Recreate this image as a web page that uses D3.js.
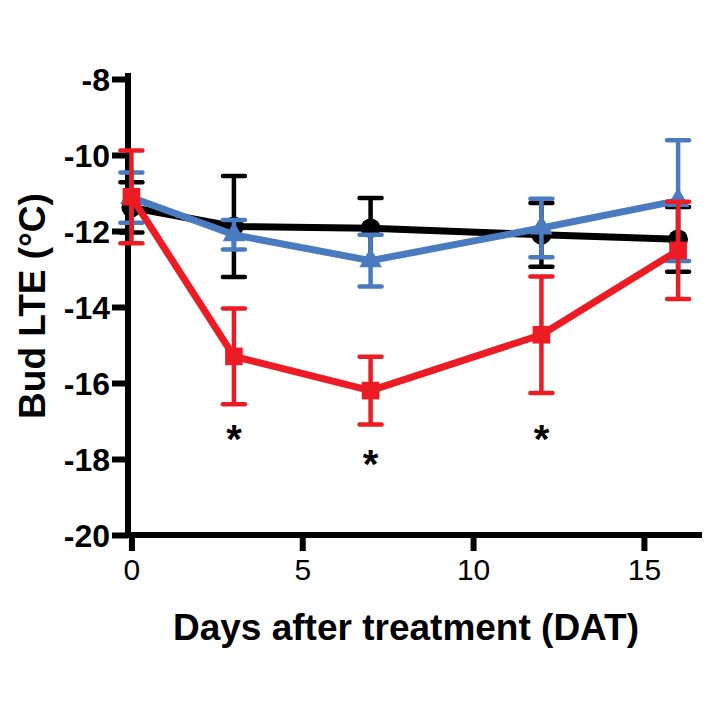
<!DOCTYPE html>
<html>
<head>
<meta charset="utf-8">
<script src="https://cdn.jsdelivr.net/npm/d3@7"></script>
<style>
  body { margin: 0; background: #fff; }
  text { font-family: "Liberation Sans", Arial, sans-serif; }
</style>
</head>
<body>
<div class="chart"></div>
<script>
const days = [0, 3, 7, 12, 16]

const blackMean = [-11.38, -11.88, -11.93, -12.10, -12.22]
const blackErr  = [0.66, 1.33, 0.80, 0.84, 0.85]

const blueMean = [-11.12, -12.10, -12.78, -11.92, -11.20]
const blueErr  = [0.66, 0.39, 0.68, 0.77, 1.59]

const redMean = [-11.10, -15.30, -16.20, -14.73, -12.51]
const redErr  = [1.22, 1.26, 0.89, 1.53, 1.28]

const starDays = [3, 7, 12]
const starValues = [-17.84, -18.5, -17.84]

const yTicks = [-8, -10, -12, -14, -16, -18, -20]
const xTicks = [0, 5, 10, 15]

const width = 709, height = 709

const xScale = d3.scaleLinear().domain([-0.1, 16.7]).range([128, 702])
const yScale = d3.scaleLinear().domain([-20, -8]).range([535, 79])

const svg = d3.select('.chart')
  .append('svg')
  .attr('width', width)
  .attr('height', height)

// axes
const yAxis = svg.append('g')
  .attr('transform', 'translate(128,0)')
  .call(d3.axisLeft(yScale).tickValues(yTicks).tickSize(16).tickPadding(2).tickSizeOuter(0))
yAxis.select('.domain').remove()
yAxis.append('line')
  .attr('x1', 0).attr('x2', 0)
  .attr('y1', 73).attr('y2', 538)
  .attr('stroke', '#000').attr('stroke-width', 6)
yAxis.selectAll('.tick line').attr('stroke', '#000').attr('stroke-width', 6)
yAxis.selectAll('.tick text')
  .attr('fill', '#000')
  .style('font-size', '32px')
  .style('font-weight', 'bold')
  .attr('dy', '0.36em')
  .text(d => d)

const xAxis = svg.append('g')
  .attr('transform', 'translate(0,535)')
  .call(d3.axisBottom(xScale).tickValues(xTicks).tickSize(16).tickPadding(8).tickSizeOuter(0))
xAxis.select('.domain').remove()
xAxis.append('line')
  .attr('x1', 125).attr('x2', 702)
  .attr('y1', 0).attr('y2', 0)
  .attr('stroke', '#000').attr('stroke-width', 6)
xAxis.selectAll('.tick line').attr('stroke', '#000').attr('stroke-width', 6)
xAxis.selectAll('.tick text')
  .attr('fill', '#000')
  .style('font-size', '30px')

// axis titles
svg.append('text')
  .attr('x', 406).attr('y', 640)
  .attr('text-anchor', 'middle')
  .style('font-size', '37px')
  .style('font-weight', 'bold')
  .text('Days after treatment (DAT)')

svg.append('text')
  .attr('transform', 'translate(45,306) rotate(-90)')
  .attr('text-anchor', 'middle')
  .style('font-size', '37px')
  .style('font-weight', 'bold')
  .text('Bud LTE (°C)')

const series = [
  {mean: blackMean, err: blackErr, color: '#000000', shape: d3.symbolCircle},
  {mean: blueMean, err: blueErr, color: '#4a7bc1', shape: d3.symbolTriangle},
  {mean: redMean, err: redErr, color: '#ed1c24', shape: d3.symbolSquare}
]

const line = d3.line()
  .x(d => xScale(d.x))
  .y(d => yScale(d.y))

series.forEach(s => {
  const pts = days.map((x, i) => ({x: x, y: s.mean[i], e: s.err[i]}))
  const g = svg.append('g')

  g.selectAll('.bar').data(pts).enter().append('line')
    .attr('x1', d => xScale(d.x)).attr('x2', d => xScale(d.x))
    .attr('y1', d => yScale(d.y + d.e)).attr('y2', d => yScale(d.y - d.e))
    .attr('stroke', s.color).attr('stroke-width', 4.5)

  ;[1, -1].forEach(sign => {
    g.selectAll('.cap').data(pts).enter().append('line')
      .attr('x1', d => xScale(d.x) - 11).attr('x2', d => xScale(d.x) + 11)
      .attr('y1', d => yScale(d.y + sign * d.e)).attr('y2', d => yScale(d.y + sign * d.e))
      .attr('stroke', s.color).attr('stroke-width', 4.5).attr('stroke-linecap', 'round')
  })

  g.append('path')
    .datum(pts)
    .attr('d', line)
    .attr('fill', 'none')
    .attr('stroke', s.color)
    .attr('stroke-width', 7)
    .attr('stroke-linejoin', 'round')

  g.selectAll('.pt').data(pts).enter().append('path')
    .attr('transform', d => 'translate(' + xScale(d.x) + ',' + yScale(d.y) + ')')
    .attr('d', d3.symbol().type(s.shape).size(s.shape === d3.symbolTriangle ? 220 : 310))
    .attr('fill', s.color)
})

// significance stars
svg.selectAll('.star').data(starDays).enter().append('text')
  .attr('x', d => xScale(d))
  .attr('y', (d, i) => yScale(starValues[i]))
  .attr('text-anchor', 'middle')
  .style('font-size', '40px')
  .style('font-weight', 'bold')
  .text('*')
</script>
</body>
</html>
